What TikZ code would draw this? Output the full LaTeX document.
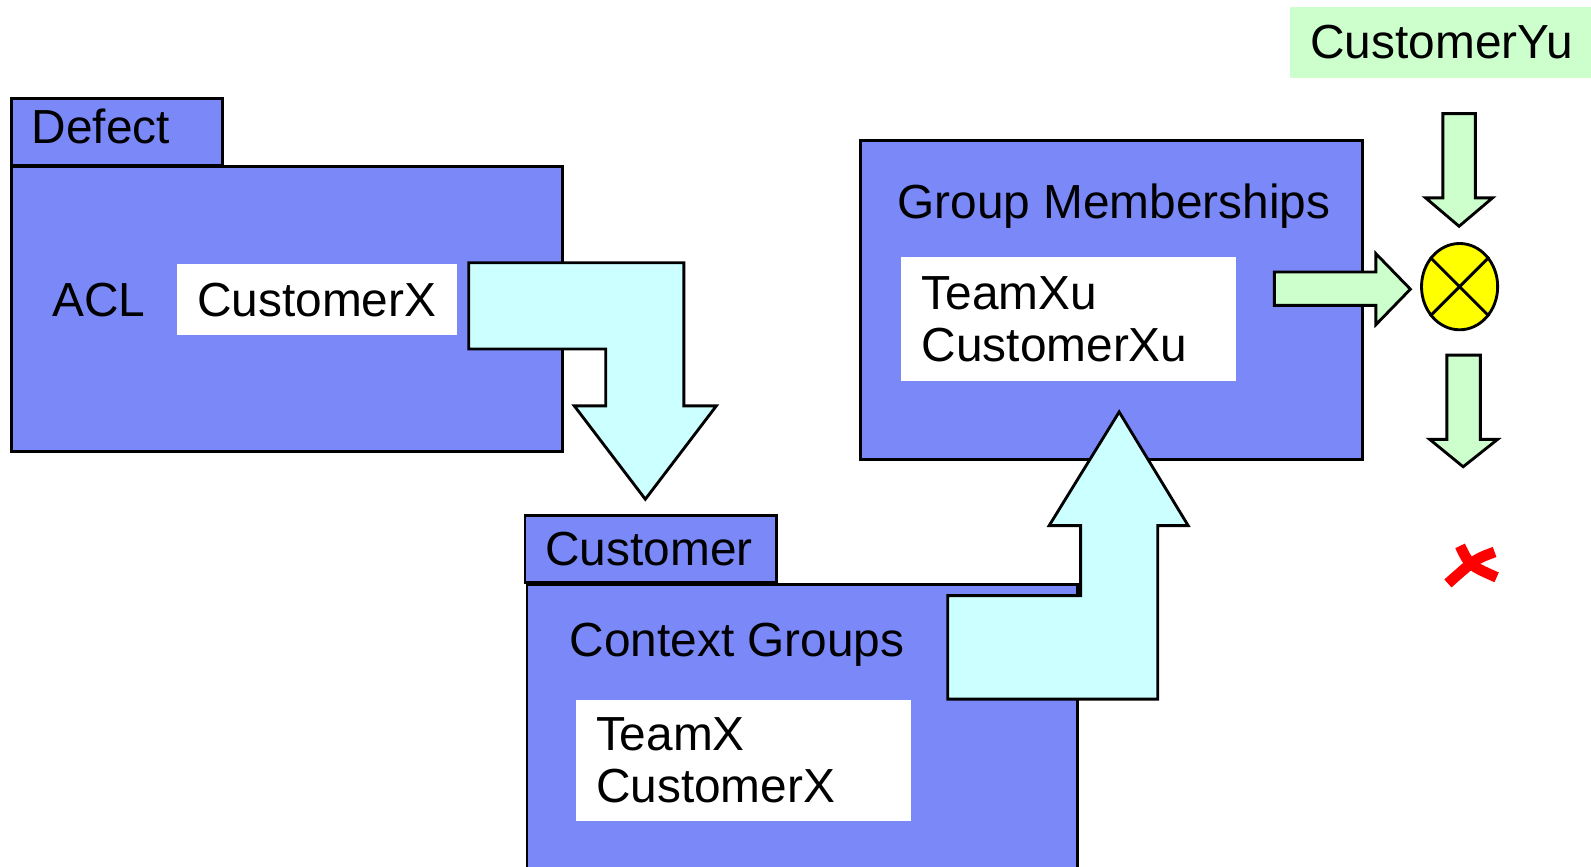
\documentclass[tikz,border=0pt]{standalone}
\usepackage{fontspec}
\setmainfont{Liberation Sans}
\usetikzlibrary{positioning, shapes.geometric}
\definecolor{pkgblue}{RGB}{122,136,248}
\definecolor{flowcyan}{RGB}{204,255,255}
\definecolor{mintgreen}{RGB}{204,255,204}
\definecolor{xoryellow}{RGB}{255,255,0}

\begin{document}
\begin{tikzpicture}[
    x=0.01cm, y=-0.01cm,
    line width=0.8pt,
    txt/.style={font=\fontsize{13.4}{14.5}\selectfont, inner sep=0pt},
    pkg/.style={draw, fill=pkgblue, anchor=north west, inner sep=0pt},
    tab/.style={pkg, txt, align=left, inner xsep=0.2cm},
    val/.style={fill=white, anchor=north west, txt, align=left, inner xsep=0.2cm},
    bigarrow/.style={draw, fill=flowcyan, line join=miter},
    okarrow/.style={draw, fill=mintgreen, line join=miter},
  ]
  \useasboundingbox (0,0) rectangle (1568,854);

  % Defect package
  \node[pkg, minimum width=5.43cm, minimum height=2.8cm] (defect) at (10,163) {};
  \node[tab, text width=1.68cm, minimum height=0.66cm] (defecttab) at (10,96) {};
  \node[txt, anchor=base west] (defectname) at (30,141) {Defect};
  \node[txt, anchor=base west] (acl) at (50,312) {ACL};
  \node[val, text width=2.36cm, minimum height=0.7cm] (aclval) at (173,259) {CustomerX};

  % Customer package
  \node[pkg, minimum width=5.42cm, minimum height=3.0cm] (customer) at (518,575) {};
  \node[tab, text width=2.08cm, minimum height=0.66cm] (customertab) at (516,507) {Customer};
  \node[txt, anchor=base west] (ctxgroups) at (560,647) {Context Groups};
  \node[val, text width=2.9cm, minimum height=1.2cm] (ctxval) at (566,688) {TeamX\\CustomerX};

  % group memberships
  \node[pkg, minimum width=4.94cm, minimum height=3.14cm] (groups) at (847,137) {};
  \node[txt, anchor=base west] (grouptitle) at (883,215) {Group Memberships};
  \node[val, text width=2.9cm, minimum height=1.22cm] (groupval) at (887,252) {TeamXu\\CustomerXu};

  % user to check
  \node[val, fill=mintgreen, text width=2.58cm, minimum height=0.7cm] (user) at (1270,5) {CustomerYu};

  % ACL -> context groups
  \draw[bigarrow] (462,259) -- (674,259) -- (674,400) -- (706,400) -- (636,492)
    -- (566,400) -- (597,400) -- (597,344) -- (462,344) -- cycle;
  % context groups -> memberships
  \draw[bigarrow] (934,587) -- (1065,587) -- (1065,518) -- (1034,518) -- (1103,406)
    -- (1171,518) -- (1141,518) -- (1141,689) -- (934,689) -- cycle;

  \node[draw, fill=xoryellow, ellipse, minimum width=0.75cm, minimum height=0.85cm,
    inner sep=0pt] (xor) at (1438.5,282.5) {};
  \draw (xor.45) -- (xor.225) (xor.135) -- (xor.315);

  \draw[okarrow] (1422,112) -- (1454,112) -- (1454,195) -- (1471,195) -- (1438,223)
    -- (1405,195) -- (1422,195) -- cycle;
  \draw[okarrow] (1256,268) -- (1356,268) -- (1356,250) -- (1390,285) -- (1356,320)
    -- (1356,301) -- (1256,301) -- cycle;
  \draw[okarrow] (1426,350) -- (1459,350) -- (1459,433) -- (1476,433) -- (1442,460)
    -- (1409,433) -- (1426,433) -- cycle;

  % denied
  \draw[red, line width=3pt] (1439,538) .. controls (1448,557) .. (1475,569);
  \draw[red, line width=3pt] (1473,544) .. controls (1454,551) .. (1427,575);
\end{tikzpicture}
\end{document}
